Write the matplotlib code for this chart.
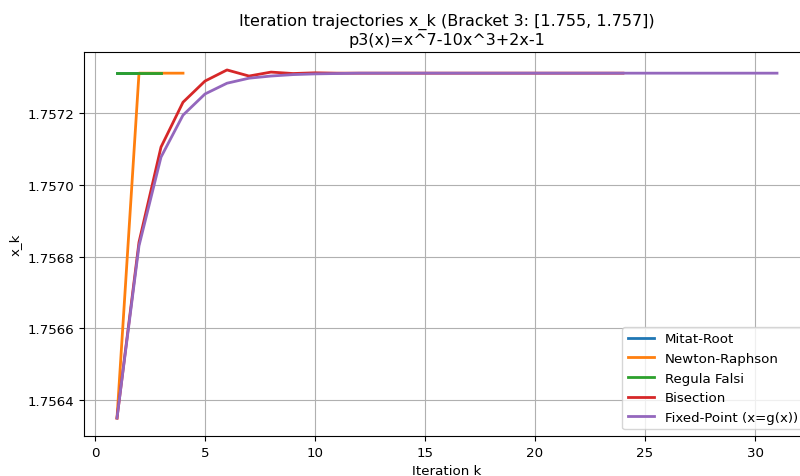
import numpy as np
from matplotlib import pyplot as plt

# iteration trajectories
mitat_k = [1, 2, 3]
mitat_x = [1.757311, 1.757311, 1.757311]

newton_k = [1, 2, 3, 4]
newton_x = [1.75635, 1.757311, 1.757311, 1.757311]

falsi_k = [1, 2, 3]
falsi_x = [1.757311, 1.757311, 1.757311]

bisect_k = list(range(1, 25))
bisect_x = [1.75635, 1.75684, 1.757105, 1.75723, 1.757289, 1.75732,
            1.757303, 1.757314, 1.75731, 1.757312, 1.757311, 1.757311,
            1.757311, 1.757311, 1.757311, 1.757311, 1.757311, 1.757311,
            1.757311, 1.757311, 1.757311, 1.757311, 1.757311, 1.757311]

fixed_k = list(range(1, 32))
fixed_x = [1.75635, 1.75683, 1.757077, 1.757194, 1.757253, 1.757283,
           1.757297, 1.757303, 1.757307, 1.757309, 1.75731, 1.757311,
           1.757311, 1.757311, 1.757311, 1.757311, 1.757311, 1.757311,
           1.757311, 1.757311, 1.757311, 1.757311, 1.757311, 1.757311,
           1.757311, 1.757311, 1.757311, 1.757311, 1.757311, 1.757311,
           1.757311]

plt.rcParams['font.size'] = 9.6

fig = plt.figure(figsize=(8, 4.77), dpi=100)
ax = fig.add_axes([0.105, 0.0839, 0.9075, 0.805])

ax.plot(mitat_k, mitat_x, lw=2, label='Mitat-Root')
ax.plot(newton_k, newton_x, lw=2, label='Newton-Raphson')
ax.plot(falsi_k, falsi_x, lw=2, label='Regula Falsi')
ax.plot(bisect_k, bisect_x, lw=2, label='Bisection')
ax.plot(fixed_k, fixed_x, lw=2, label='Fixed-Point (x=g(x))')

ax.set_xlim(-0.5, 32.5)
ax.set_ylim(1.75630, 1.75737)
ax.set_yticks([1.7564, 1.7566, 1.7568, 1.7570, 1.7572])
ax.yaxis.set_major_formatter(plt.FormatStrFormatter('%.4f'))
ax.grid(True)
ax.set_xlabel('Iteration k')
ax.set_ylabel('x_k')
ax.set_title('Iteration trajectories x_k (Bracket 3: [1.755, 1.757])\np3(x)=x^7-10x^3+2x-1',
             fontsize=11.5)
ax.legend(loc='lower right')

fig.savefig('out.png', dpi=100)
